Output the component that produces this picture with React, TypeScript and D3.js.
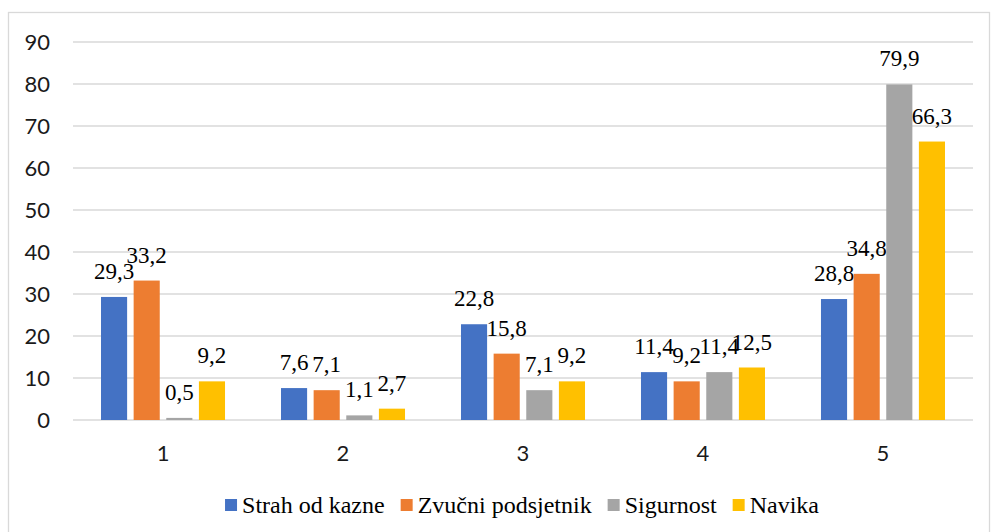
import { useEffect, useRef, useState } from "react"
import * as d3 from "d3"

const categories = ["1", "2", "3", "4", "5"]
const seriesNames = ["Strah od kazne", "Zvučni podsjetnik", "Sigurnost", "Navika"]
const seriesColors = ["#4472C4", "#ED7D31", "#A5A5A5", "#FFC000"]

const strahOdKazne = [29.3, 7.6, 22.8, 11.4, 28.8]
const zvucniPodsjetnik = [33.2, 7.1, 15.8, 9.2, 34.8]
const sigurnost = [0.5, 1.1, 7.1, 11.4, 79.9]
const navika = [9.2, 2.7, 9.2, 12.5, 66.3]

const yTicks = [0, 10, 20, 30, 40, 50, 60, 70, 80, 90]

const W = 991
const H = 532
const SANS = '"Lato"'
const SERIF = '"Liberation Serif"'

const fmt = (v: number) => v.toFixed(1).replace(".", ",")

export default function App() {
  const values = [strahOdKazne, zvucniPodsjetnik, sigurnost, navika]
  const legendRefs = useRef<(SVGTextElement | null)[]>([])
  const [widths, setWidths] = useState<number[]>([141, 175, 93, 70])

  useEffect(() => {
    const w = legendRefs.current.map((n) => (n ? n.getComputedTextLength() : 0))
    setWidths(w)
  }, [])

  const x0 = d3.scaleBand<string>()
    .domain(categories)
    .range([73, 973])
    .paddingInner(0.311)
    .paddingOuter(0.1556)

  const x1 = d3.scaleBand<string>()
    .domain(seriesNames)
    .range([0, x0.bandwidth()])
    .paddingInner(0.2)

  const y = d3.scaleLinear().domain([0, 90]).range([420, 42])

  // legend layout
  const offsets: number[] = []
  let cx = 0
  widths.forEach((w) => {
    offsets.push(cx)
    cx += 17 + w + 16
  })
  const legendStart = 522 - (cx - 16) / 2

  return (
    <svg width={W} height={H} style={{ position: "absolute", left: 0, top: 0, background: "#fff" }}>
      <rect x={8.5} y={12.5} width={981} height={540} fill="#fff" stroke="#d9d9d9" strokeWidth={1.3} />

      {yTicks.map((t) => (
        <line key={"g" + t} x1={73} x2={973} y1={y(t)} y2={y(t)} stroke="#d9d9d9" strokeWidth={1.3} />
      ))}

      {yTicks.map((t) => (
        <text key={"y" + t} x={50} y={y(t)} dy="0.36em" textAnchor="end"
          style={{ fontFamily: SANS, fontSize: "22px" }} fill="#1a1a1a">
          {t}
        </text>
      ))}

      {categories.map((c) => (
        <text key={"x" + c} x={(x0(c) || 0) + x0.bandwidth() / 2} y={461} textAnchor="middle"
          style={{ fontFamily: SANS, fontSize: "22px" }} fill="#1a1a1a">
          {c}
        </text>
      ))}

      {seriesNames.map((name, si) => (
        <g key={name}>
          {categories.map((c, ci) => {
            const v = values[si][ci]
            const bx = (x0(c) || 0) + (x1(name) || 0)
            return (
              <g key={c}>
                <rect x={bx} y={y(v)} width={x1.bandwidth()} height={y(0) - y(v)} fill={seriesColors[si]} />
                <text x={bx + x1.bandwidth() / 2} y={y(v) - 18} textAnchor="middle"
                  style={{ fontFamily: SERIF, fontSize: "23px" }} fill="#000">
                  {fmt(v)}
                </text>
              </g>
            )
          })}
        </g>
      ))}

      <g transform={`translate(${legendStart},0)`}>
        {seriesNames.map((name, i) => (
          <g key={name} transform={`translate(${offsets[i]},0)`}>
            <rect x={0} y={499} width={12} height={12} fill={seriesColors[i]} />
            <text ref={(el) => { legendRefs.current[i] = el }} x={17} y={513}
              style={{ fontFamily: SERIF, fontSize: "24px" }} fill="#000">
              {name}
            </text>
          </g>
        ))}
      </g>
    </svg>
  )
}
